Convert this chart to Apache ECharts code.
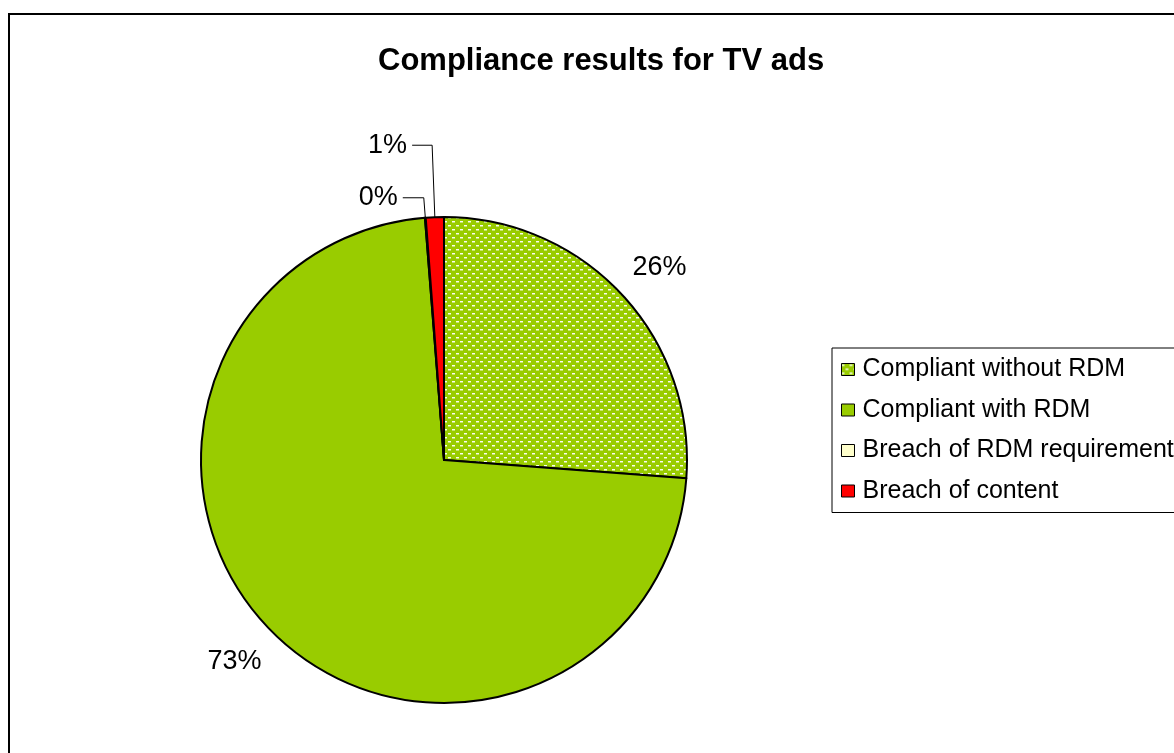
<!DOCTYPE html>
<html>
<head>
<meta charset="utf-8">
<script src="https://cdn.jsdelivr.net/npm/echarts@6/dist/echarts.min.js"></script>
<style>
  html, body { margin: 0; padding: 0; background: #fff; }
  #chart { width: 1174px; height: 753px; }
</style>
</head>
<body>
<div id="chart"></div>
<script>
// ---- data ----
const titleText = 'Compliance results for TV ads';
const categories = ['Compliant without RDM', 'Compliant with RDM', 'Breach of RDM requirement', 'Breach of content'];
const values = [26.2, 72.55, 0.05, 1.2];

// ---- styles ----
const sliceColors = ['pattern', '#99CC00', '#FFFFCC', '#FF0000'];
const lineLen = [40, 41, 20, 72];
const lineLen2 = [-24, -23, 21, 20];
const lineShow = [false, false, true, true];

function makePattern() {
  const c = document.createElement('canvas');
  c.width = 8; c.height = 8;
  const ctx = c.getContext('2d');
  ctx.fillStyle = '#99CC00';
  ctx.fillRect(0, 0, 8, 8);
  ctx.fillStyle = 'rgba(255,255,255,0.95)';
  ctx.fillRect(0, 1, 3, 1);
  ctx.fillRect(4, 5, 3, 1);
  ctx.fillStyle = 'rgba(255,255,255,0.45)';
  ctx.fillRect(0, 2, 3, 1);
  ctx.fillRect(4, 6, 3, 1);
  return c;
}
const patternCanvas = makePattern();

const font = '"Liberation Sans", Arial, sans-serif';

const data = categories.map((name, i) => ({
  name: name,
  value: values[i],
  itemStyle: {
    color: sliceColors[i] === 'pattern' ? { image: patternCanvas, repeat: 'repeat' } : sliceColors[i]
  },
  labelLine: {
    show: lineShow[i],
    length: lineLen[i],
    length2: lineLen2[i]
  }
}));

const chart = echarts.init(document.getElementById('chart'), null, { renderer: 'canvas' });
chart.setOption({
  animation: false,
  backgroundColor: '#ffffff',
  title: {
    text: titleText,
    left: 378,
    top: 46,
    padding: 0,
    textStyle: { fontFamily: font, fontSize: 31, fontWeight: 'bold', color: '#000' }
  },
  legend: {
    orient: 'vertical',
    left: 832,
    top: 348,
    padding: [9, 30, 9, 9],
    borderColor: '#000',
    borderWidth: 1,
    itemWidth: 13,
    itemHeight: 12,
    itemGap: 15.5,
    icon: 'rect',
    selectedMode: false,
    itemStyle: { borderColor: '#000', borderWidth: 1 },
    textStyle: { fontFamily: font, fontSize: 25, lineHeight: 25, color: '#000', padding: [0, 0, 0, 3] },
    data: categories
  },
  graphic: [{
    type: 'rect',
    shape: { x: 9, y: 14, width: 1300, height: 900 },
    style: { fill: 'none', stroke: '#000', lineWidth: 2 },
    silent: true,
    z: 100
  }],
  series: [{
    type: 'pie',
    center: [444, 460],
    radius: 243,
    startAngle: 90,
    clockwise: true,
    avoidLabelOverlap: false,
    minAngle: 0,
    emphasis: { disabled: true },
    itemStyle: { borderColor: '#000', borderWidth: 2 },
    label: {
      show: true,
      position: 'outside',
      fontFamily: font,
      fontSize: 27,
      color: '#000',
      distanceToLabelLine: 5,
      formatter: p => Math.round(p.percent) + '%'
    },
    labelLine: {
      lineStyle: { color: '#000', width: 1 },
      smooth: false,
      maxSurfaceAngle: 180,
      minTurnAngle: 0
    },
    data: data
  }]
});
</script>
</body>
</html>
